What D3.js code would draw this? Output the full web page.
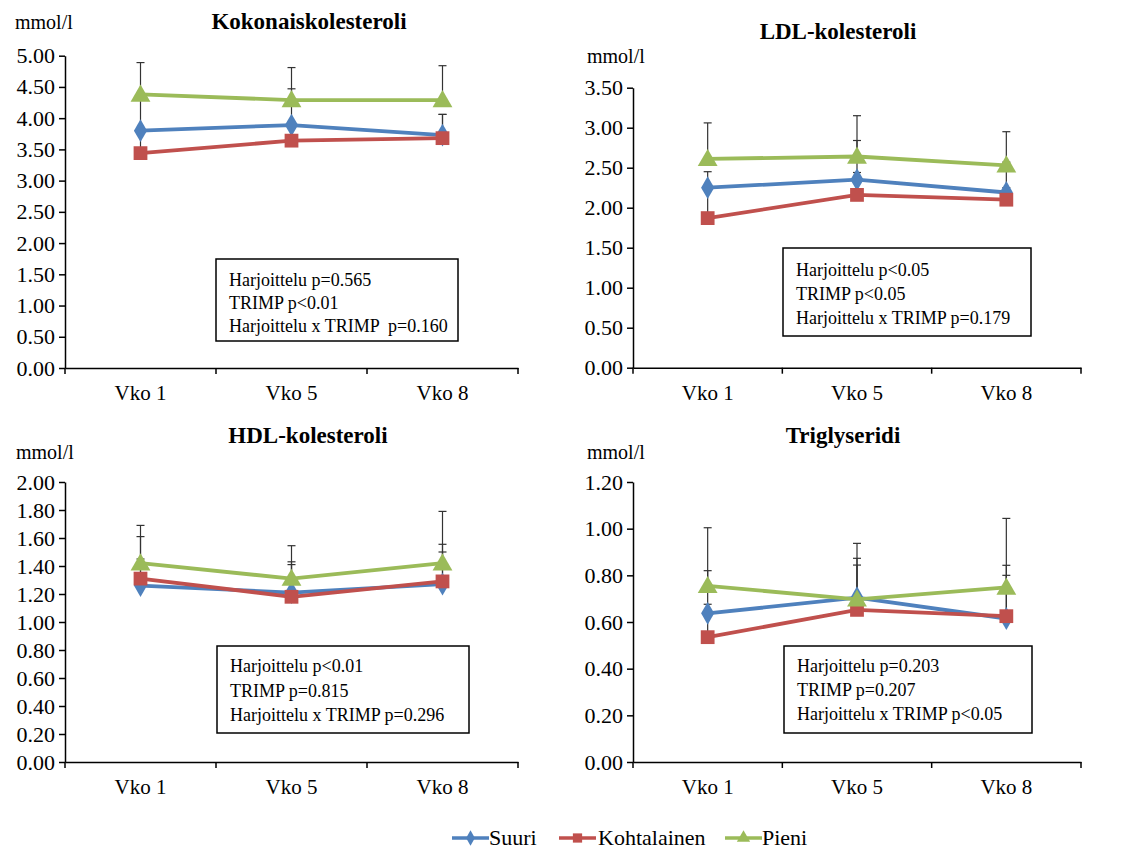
<!DOCTYPE html>
<html>
<head>
<meta charset="utf-8">
<script src="https://cdn.jsdelivr.net/npm/d3@7"></script>
<style>
  body { margin: 0; background: #fff; }
  svg text { font-family: "Liberation Serif", "Times New Roman", Times, serif !important; fill: #000; }
</style>
</head>
<body>
<div id="kaavio"></div>
<script>
// Data
const viikot = ["Vko 1", "Vko 5", "Vko 8"];
const ryhmat = ["Suuri", "Kohtalainen", "Pieni"];
const varit = ["#4F81BD", "#C0504D", "#9BBB59"];

const otsikot = ["Kokonaiskolesteroli", "LDL-kolesteroli", "HDL-kolesteroli", "Triglyseridi"];
const yMaksimit = [5.0, 3.5, 2.0, 1.2];
const yValit = [0.5, 0.5, 0.2, 0.2];

// keskiarvot: [Suuri, Kohtalainen, Pieni]
const kokonaisKa = [[3.80, 3.89, 3.73], [3.44, 3.64, 3.68], [4.38, 4.29, 4.29]];
const kokonaisSd = [[0.50, 0.58, 0.33], [0.35, 0.25, 0.38], [0.51, 0.52, 0.55]];
const ldlKa = [[2.25, 2.35, 2.19], [1.87, 2.16, 2.10], [2.61, 2.64, 2.53]];
const ldlSd = [[0.20, 0.49, 0.38], [0.40, 0.28, 0.15], [0.45, 0.51, 0.42]];
const hdlKa = [[1.26, 1.21, 1.27], [1.31, 1.18, 1.29], [1.42, 1.31, 1.42]];
const hdlSd = [[0.19, 0.22, 0.23], [0.30, 0.23, 0.265], [0.27, 0.235, 0.37]];
const trigKa = [[0.637, 0.704, 0.615], [0.535, 0.652, 0.625], [0.755, 0.697, 0.748]];
const trigSd = [[0.183, 0.169, 0.228], [0.141, 0.192, 0.175], [0.249, 0.240, 0.296]];

const tilastot = [
    ["Harjoittelu p=0.565", "TRIMP p<0.01", "Harjoittelu x TRIMP  p=0.160"],
    ["Harjoittelu p<0.05", "TRIMP p<0.05", "Harjoittelu x TRIMP p=0.179"],
    ["Harjoittelu p<0.01", "TRIMP p=0.815", "Harjoittelu x TRIMP p=0.296"],
    ["Harjoittelu p=0.203", "TRIMP p=0.207", "Harjoittelu x TRIMP p<0.05"]
];

const keskiarvot = [kokonaisKa, ldlKa, hdlKa, trigKa];
const hajonnat = [kokonaisSd, ldlSd, hdlSd, trigSd];

const fontti = "'Liberation Serif', 'Times New Roman', Times, serif";

// Asettelu
const paneelit = [
    { x0: 65, x1: 518, yYla: 55.7, yAla: 368, otsX: 309, otsY: 29, yksX: 15, yksY: 29,
      laatikko: [216, 259, 242, 82], tekstiX: 229, tekstiY: 286, rivi: 23 },
    { x0: 633, x1: 1081, yYla: 87.7, yAla: 367.7, otsX: 838, otsY: 39, yksX: 587, yksY: 63,
      laatikko: [783, 248, 248, 88], tekstiX: 796, tekstiY: 276, rivi: 24 },
    { x0: 65, x1: 518, yYla: 482, yAla: 762, otsX: 308, otsY: 443, yksX: 16, yksY: 459,
      laatikko: [217, 646, 252, 87], tekstiX: 230, tekstiY: 672, rivi: 24.5 },
    { x0: 633, x1: 1081, yYla: 482, yAla: 762, otsX: 843, otsY: 443, yksX: 587, yksY: 459,
      laatikko: [784, 646, 248, 87], tekstiX: 797, tekstiY: 672, rivi: 24 }
];

const svg = d3.select("#kaavio")
    .append("svg")
    .attr("width", 1129)
    .attr("height", 849)
    .style("font-family", fontti);

const symbolit = [d3.symbolDiamond, d3.symbolSquare, d3.symbolTriangle];
const koot = [150, 190, 170];

paneelit.forEach((p, i) => {
    const g = svg.append("g");

    const xScale = d3.scaleBand()
        .domain(viikot)
        .range([p.x0, p.x1]);

    const yScale = d3.scaleLinear()
        .domain([0, yMaksimit[i]])
        .range([p.yAla, p.yYla]);

    const keski = w => xScale(w) + xScale.bandwidth() / 2;

    // y-akseli
    const yAkseli = g.append("g")
        .attr("transform", `translate(${p.x0},0)`)
        .call(d3.axisLeft(yScale)
            .tickValues(d3.range(0, yMaksimit[i] + yValit[i] / 2, yValit[i]))
            .tickFormat(d3.format(".2f"))
            .tickSize(6)
            .tickSizeOuter(0)
            .tickPadding(4));
    yAkseli.attr("font-family", null).style("font-family", fontti);
    yAkseli.selectAll("text").attr("font-size", 22).style("font-family", fontti);
    yAkseli.select(".domain").attr("stroke-width", 1.5);
    yAkseli.selectAll(".tick line").attr("stroke-width", 1.5);

    // x-akseli
    const xAkseli = g.append("g")
        .attr("transform", `translate(0,${p.yAla})`)
        .call(d3.axisBottom(xScale).tickSize(0).tickPadding(17));
    xAkseli.attr("font-family", null).style("font-family", fontti);
    xAkseli.selectAll("text").attr("font-size", 21).style("font-family", fontti);
    xAkseli.select(".domain").attr("stroke-width", 1.5);

    g.selectAll(".xraja")
        .data([...viikot.map(w => xScale(w)), p.x1])
        .join("line")
        .attr("x1", d => d).attr("x2", d => d)
        .attr("y1", p.yAla).attr("y2", p.yAla + 6)
        .attr("stroke", "#000")
        .attr("stroke-width", 1.5);

    // otsikot
    g.append("text")
        .attr("x", p.otsX).attr("y", p.otsY)
        .attr("text-anchor", "middle")
        .attr("font-size", 23)
        .attr("font-weight", "bold")
        .style("font-family", fontti)
        .text(otsikot[i]);

    g.append("text")
        .attr("x", p.yksX).attr("y", p.yksY)
        .attr("font-size", 20)
        .style("font-family", fontti)
        .text("mmol/l");

    // virhepalkit
    ryhmat.forEach((r, s) => {
        viikot.forEach((w, k) => {
            const ka = keskiarvot[i][s][k];
            const yla = ka + hajonnat[i][s][k];
            g.append("line")
                .attr("x1", keski(w)).attr("x2", keski(w))
                .attr("y1", yScale(ka)).attr("y2", yScale(yla))
                .attr("stroke", "#333").attr("stroke-width", 1.2);
            g.append("line")
                .attr("x1", keski(w) - 4).attr("x2", keski(w) + 4)
                .attr("y1", yScale(yla)).attr("y2", yScale(yla))
                .attr("stroke", "#333").attr("stroke-width", 1.2);
        });
    });

    // sarjat
    ryhmat.forEach((r, s) => {
        const arvot = keskiarvot[i][s];
        const viiva = d3.line()
            .x((d, k) => keski(viikot[k]))
            .y(d => yScale(d));

        g.append("path")
            .datum(arvot)
            .attr("d", viiva)
            .attr("fill", "none")
            .attr("stroke", varit[s])
            .attr("stroke-width", 3.8);

        g.selectAll(".m" + s)
            .data(arvot)
            .join("path")
            .attr("transform", (d, k) => `translate(${keski(viikot[k])},${yScale(d) + (s === 2 ? 1.5 : 0)})`)
            .attr("d", d3.symbol().type(symbolit[s]).size(koot[s]))
            .attr("fill", varit[s]);
    });

    // tilastolaatikko
    const [bx, by, bw, bh] = p.laatikko;
    g.append("rect")
        .attr("x", bx).attr("y", by)
        .attr("width", bw).attr("height", bh)
        .attr("fill", "#fff")
        .attr("stroke", "#000")
        .attr("stroke-width", 1.5);

    tilastot[i].forEach((t, r) => {
        g.append("text")
            .attr("x", p.tekstiX)
            .attr("y", p.tekstiY + r * p.rivi)
            .attr("font-size", 18)
            .style("font-family", fontti)
            .style("white-space", "pre")
            .text(t);
    });
});

// selite
const selite = svg.append("g");
const seliteX = [452, 559, 725];
const seliteTekstiX = [489, 598, 762];
const seliteY = 838;
ryhmat.forEach((r, s) => {
    selite.append("line")
        .attr("x1", seliteX[s]).attr("x2", seliteX[s] + 37)
        .attr("y1", seliteY).attr("y2", seliteY)
        .attr("stroke", varit[s])
        .attr("stroke-width", 3.5);
    selite.append("path")
        .attr("transform", `translate(${seliteX[s] + 18.5},${seliteY})`)
        .attr("d", d3.symbol().type(symbolit[s]).size(koot[s] * 0.45))
        .attr("fill", varit[s]);
    selite.append("text")
        .attr("x", seliteTekstiX[s])
        .attr("y", seliteY + 7)
        .attr("font-size", 22)
        .style("font-family", fontti)
        .text(r);
});
</script>
</body>
</html>
